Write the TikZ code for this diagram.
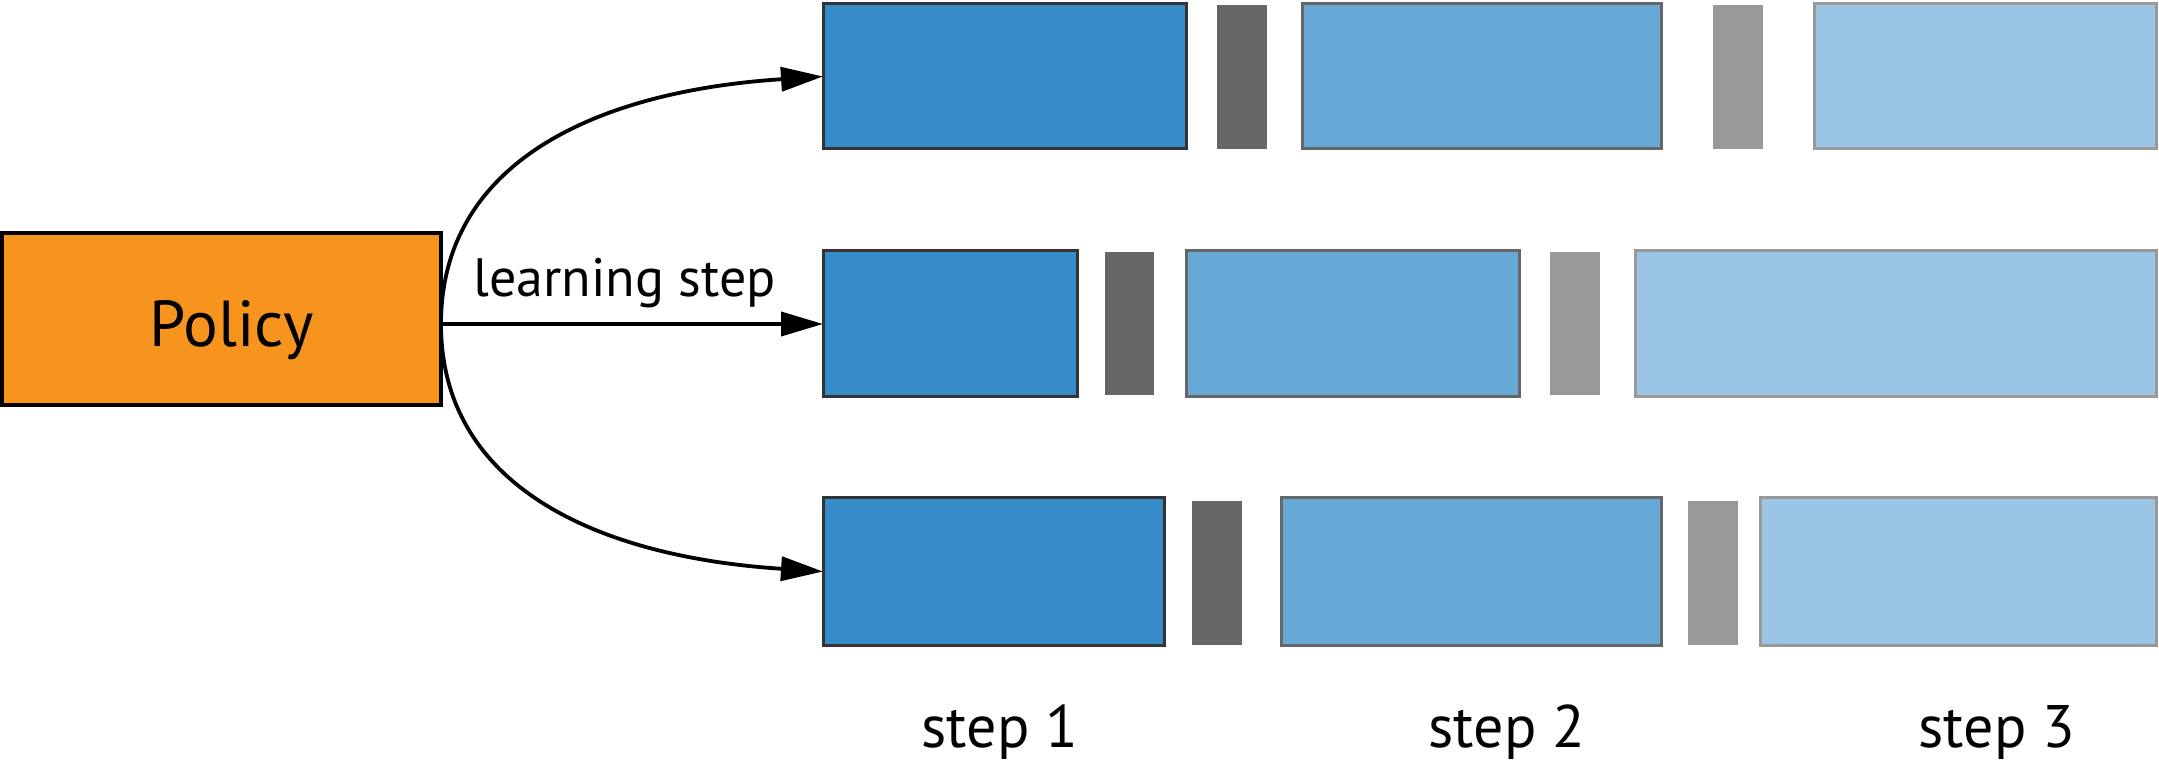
\documentclass[tikz,border=0pt]{standalone}
\usepackage{fontspec}
\setmainfont{PT Sans}
\usetikzlibrary{fit,arrows.meta}
\definecolor{orangeP}{HTML}{F7941D}
\definecolor{blueA}{HTML}{358CC9}
\definecolor{blueB}{HTML}{66A9D6}
\definecolor{blueC}{HTML}{9AC5E4}
\definecolor{edgeA}{HTML}{333333}
\definecolor{grayA}{HTML}{666666}
\definecolor{grayB}{HTML}{999999}
\begin{document}
\begin{tikzpicture}[x=0.5pt,y=-0.5pt,
  box/.style={rectangle, inner sep=0pt, outer sep=0pt, line width=1.5pt},
  policybox/.style={box, draw=black, fill=orangeP, line width=2pt},
  boxA/.style={box, draw=edgeA, fill=blueA},
  boxB/.style={box, draw=grayA, fill=blueB},
  boxC/.style={box, draw=grayB, fill=blueC},
  barA/.style={box, fill=grayA, draw=none},
  barB/.style={box, fill=grayB, draw=none},
  arr/.style={line width=1.9pt, -{Triangle[length=21pt,width=12pt]}},
  lbl/.style={inner sep=0pt, anchor=base}
  ]
\useasboundingbox (0,0) rectangle (2159,764);
% Policy
\node[policybox, fit={(2,233)(441,405)}] (policy) {};
\node[lbl, font=\fontsize{32.5}{38}\selectfont] (policytxt) at ([xshift=5pt,yshift=-14pt]policy.center) {Policy};
% row 1
\node[boxA, fit={(823,4)(1186,149)}] (a1) {};
\node[barA, fit={(1217,5)(1267,149)}] (a1b) {};
\node[boxB, fit={(1302,4)(1661,149)}] (a2) {};
\node[barB, fit={(1713,5)(1763,149)}] (a2b) {};
\node[boxC, fit={(1814,4)(2156,149)}] (a3) {};
% row 2
\node[boxA, fit={(823,251)(1077,397)}] (b1) {};
\node[barA, fit={(1105,252)(1154,395)}] (b1b) {};
\node[boxB, fit={(1186,251)(1519,397)}] (b2) {};
\node[barB, fit={(1550,252)(1600,395)}] (b2b) {};
\node[boxC, fit={(1635,251)(2156,397)}] (b3) {};
% row 3
\node[boxA, fit={(823,498)(1164,645)}] (c1) {};
\node[barA, fit={(1192,501)(1242,645)}] (c1b) {};
\node[boxB, fit={(1281,498)(1661,645)}] (c2) {};
\node[barB, fit={(1688,501)(1738,645)}] (c2b) {};
\node[boxC, fit={(1760,498)(2156,645)}] (c3) {};
% arrows
\coordinate (start) at (policy.east |- b1.west);
\draw[arr] (start) -- (b1.west);
\draw[arr] (start) .. controls +(0,-160) and +(-230,15) .. (a1.west);
\draw[arr] (start) .. controls +(0,160) and +(-230,-15) .. (c1.west);
% labels
\node[lbl, font=\fontsize{27}{32}\selectfont] (ls) at (624.5,297) {learning step};
\node[lbl, font=\fontsize{30}{36}\selectfont] (s1) at (1000,747) {step 1};
\node[lbl, font=\fontsize{30}{36}\selectfont] (s2) at (1507,747) {step 2};
\node[lbl, font=\fontsize{30}{36}\selectfont] (s3) at (1997,747) {step 3};
\end{tikzpicture}
\end{document}
